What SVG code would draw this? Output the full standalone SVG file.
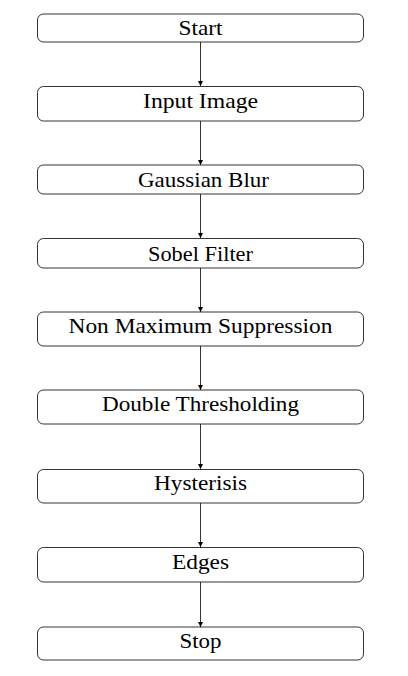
<svg xmlns="http://www.w3.org/2000/svg" width="408" height="676" viewBox="0 0 408 676">
<style>
.box{fill:#fff;stroke:#000;stroke-width:0.8}
.lbl{font-family:"Liberation Serif","DejaVu Serif",serif;font-size:22px;fill:#000;text-anchor:middle}
.edge{stroke:#000;stroke-width:0.8;fill:none}
</style>
<defs>
<marker id="ah" markerWidth="6" markerHeight="6" refX="5" refY="3" orient="auto" markerUnits="userSpaceOnUse">
<path d="M0,0.5 L5,3 L0,5.5 Z" fill="#000"/>
</marker>
</defs>
<g id="connectors">
<line class="edge" x1="200.5" y1="42" x2="200.5" y2="86" marker-end="url(#ah)"/>
<line class="edge" x1="200.5" y1="121" x2="200.5" y2="165" marker-end="url(#ah)"/>
<line class="edge" x1="200.5" y1="194" x2="200.5" y2="238" marker-end="url(#ah)"/>
<line class="edge" x1="200.5" y1="268" x2="200.5" y2="312" marker-end="url(#ah)"/>
<line class="edge" x1="200.5" y1="346" x2="200.5" y2="390" marker-end="url(#ah)"/>
<line class="edge" x1="200.5" y1="424" x2="200.5" y2="469" marker-end="url(#ah)"/>
<line class="edge" x1="200.5" y1="503" x2="200.5" y2="547" marker-end="url(#ah)"/>
<line class="edge" x1="200.5" y1="582" x2="200.5" y2="627" marker-end="url(#ah)"/>
</g>
<g id="start"><rect class="box" x="37.5" y="14" width="326" height="28" rx="6"/><text class="lbl" x="200.5" y="35" textLength="44" lengthAdjust="spacingAndGlyphs">Start</text></g>
<g id="input"><rect class="box" x="37.5" y="86.5" width="326" height="34.5" rx="6"/><text class="lbl" x="200.5" y="108" textLength="115" lengthAdjust="spacingAndGlyphs">Input Image</text></g>
<g id="gaussian"><rect class="box" x="37.5" y="165" width="326" height="29" rx="6"/><text class="lbl" x="203.5" y="187" textLength="131" lengthAdjust="spacingAndGlyphs">Gaussian Blur</text></g>
<g id="sobel"><rect class="box" x="37.5" y="238.5" width="326" height="29.5" rx="6"/><text class="lbl" x="200.5" y="260.5" textLength="105" lengthAdjust="spacingAndGlyphs">Sobel Filter</text></g>
<g id="nms"><rect class="box" x="37.5" y="312" width="326" height="34" rx="6"/><text class="lbl" x="200.5" y="333" textLength="264" lengthAdjust="spacingAndGlyphs">Non Maximum Suppression</text></g>
<g id="double"><rect class="box" x="37.5" y="390" width="326" height="34" rx="6"/><text class="lbl" x="200.5" y="411" textLength="197" lengthAdjust="spacingAndGlyphs">Double Thresholding</text></g>
<g id="hysterisis"><rect class="box" x="37.5" y="469.5" width="326" height="33.5" rx="6"/><text class="lbl" x="200.5" y="490" textLength="93" lengthAdjust="spacingAndGlyphs">Hysterisis</text></g>
<g id="edges"><rect class="box" x="37.5" y="547.5" width="326" height="34.5" rx="6"/><text class="lbl" x="200.5" y="569" textLength="57" lengthAdjust="spacingAndGlyphs">Edges</text></g>
<g id="stop"><rect class="box" x="37.5" y="627" width="326" height="33" rx="6"/><text class="lbl" x="200.5" y="647.5" textLength="42" lengthAdjust="spacingAndGlyphs">Stop</text></g>
</svg>
